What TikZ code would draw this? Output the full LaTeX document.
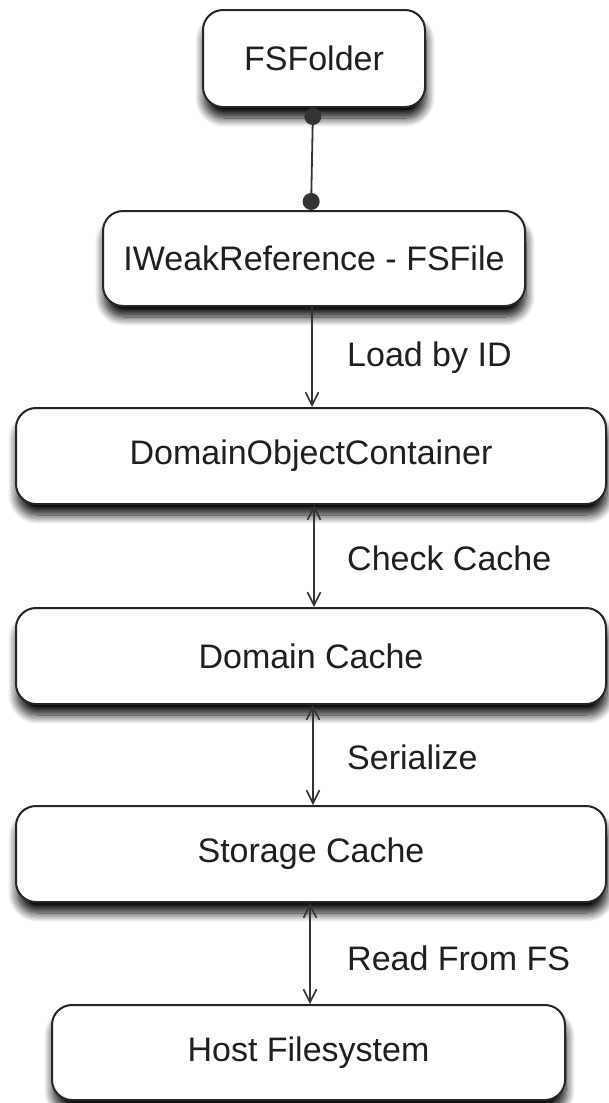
\documentclass[tikz,border=0pt]{standalone}
\usepackage{fontspec}
\setmainfont{Liberation Sans}
\usetikzlibrary{arrows.meta,shadows.blur}
\begin{document}
\begin{tikzpicture}[x=1pt,y=-1pt,
  box/.style={draw=black!85, line width=2pt, rounded corners=20pt, fill=white,
    inner sep=0pt, font=\fontsize{34}{40}\selectfont, text=black!88,
    blur shadow={shadow xshift=1pt, shadow yshift=-11pt, shadow blur radius=9pt, shadow opacity=95, shadow blur steps=12}},
  lbl/.style={font=\fontsize{34}{40}\selectfont, text=black!88, anchor=west, inner sep=0pt},
  conn/.style={draw=black!80, line width=1.8pt},
  tipb/.tip={Straight Barb[length=13pt,width=13pt,line width=1.6pt]},
  barb/.style={conn, tipb-tipb},
  onebarb/.style={conn, -tipb}
]
\useasboundingbox (0,0) rectangle (608,1103);
\node[box, minimum width=222pt, minimum height=97pt] (fs) at (314,58.5) {FSFolder};
\node[box, minimum width=422pt, minimum height=95pt] (iw) at (314,258.5) {IWeakReference - FSFile};
\node[box, minimum width=590pt, minimum height=96pt] (doc) at (311,456) {DomainObjectContainer};
\node[box, minimum width=590pt, minimum height=96pt] (dc) at (311,656) {Domain Cache};
\node[box, minimum width=590pt, minimum height=96pt] (sc) at (311,854) {Storage Cache};
\node[box, minimum width=513pt, minimum height=95pt] (hf) at (308.5,1052.5) {Host Filesystem};

\draw[conn, {Circle[length=17pt,width=17pt]}-{Circle[length=17pt,width=17pt]}]
  ([xshift=-1pt]fs.south) -- ([xshift=-3pt]iw.north);
\draw[onebarb] ([xshift=-2pt]iw.south) -- ([xshift=1pt]doc.north);
\draw[barb] ([xshift=3pt]doc.south) -- ([xshift=3pt]dc.north);
\draw[barb] ([xshift=2pt]dc.south) -- ([xshift=2pt]sc.north);
\draw[barb] ([xshift=-1pt]sc.south) -- ([xshift=-1pt]sc.south |- hf.north);

\node[lbl] (l1) at (347,358) {Load by ID};
\node[lbl] (l2) at (347,558) {Check Cache};
\node[lbl] (l3) at (347,757) {Serialize};
\node[lbl] (l4) at (347,958) {Read From FS};
\end{tikzpicture}
\end{document}
